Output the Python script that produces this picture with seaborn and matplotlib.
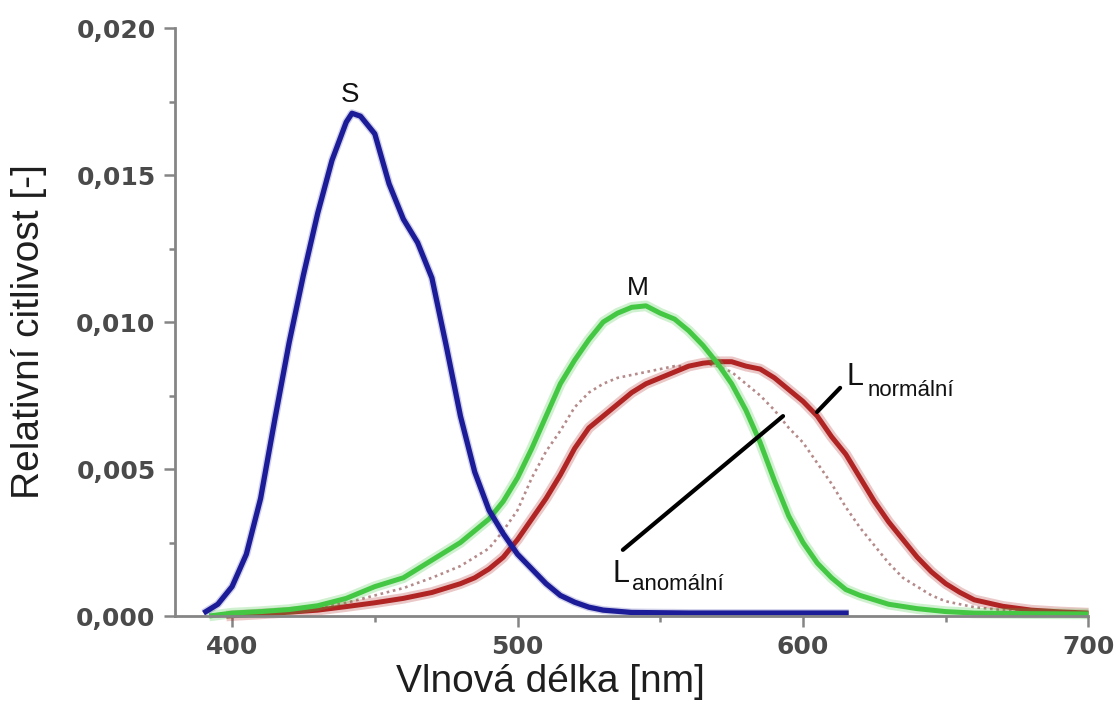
import matplotlib
matplotlib.use("Agg")
import matplotlib.pyplot as plt
import numpy as np
import pandas as pd
import seaborn as sns
from matplotlib.ticker import FixedLocator, FuncFormatter

# ---- data ----
s_wl = [390, 395, 400, 405, 410, 415, 420, 425, 430, 435, 440, 442, 445, 450, 455, 460,
        465, 470, 475, 480, 485, 490, 495, 500, 505, 510, 515, 520, 525, 530, 540, 560,
        580, 600, 616]
s_val = [0.0001, 0.0004, 0.0010, 0.0021, 0.0040, 0.0067, 0.0093, 0.0116, 0.0137, 0.0155,
         0.0168, 0.0171, 0.0170, 0.0164, 0.0147, 0.0135, 0.0127, 0.0115, 0.0092, 0.0068,
         0.0049, 0.0036, 0.0028, 0.0021, 0.0016, 0.0011, 0.0007, 0.00047, 0.0003, 0.0002,
         0.00012, 0.0001, 0.0001, 0.0001, 0.0001]

m_wl = [392, 400, 410, 420, 430, 440, 450, 460, 470, 480, 485, 490, 495, 500, 505, 510, 515,
        520, 525, 530, 535, 540, 545, 550, 555, 560, 565, 570, 575, 580, 585, 590, 595, 600,
        605, 610, 615, 620, 630, 640, 650, 660, 680, 700]
m_val = [0.0, 0.0001, 0.00015, 0.00022, 0.00035, 0.0006, 0.0010, 0.0013, 0.0019, 0.0025,
         0.0029, 0.0033, 0.0039, 0.0047, 0.0057, 0.0068, 0.0079, 0.0087, 0.0094, 0.0100,
         0.0103, 0.0105, 0.01055, 0.0103, 0.0101, 0.0097, 0.0092, 0.0086, 0.0079, 0.0070,
         0.0059, 0.0046, 0.0034, 0.0025, 0.0018, 0.0013, 0.0009, 0.0007, 0.0004, 0.00025,
         0.00015, 0.0001, 0.00008, 0.00007]

ln_wl = [398, 410, 420, 430, 440, 450, 460, 470, 480, 485, 490, 495, 500, 505, 510, 515, 520,
         525, 530, 535, 540, 545, 550, 555, 560, 565, 570, 575, 580, 585, 590, 595, 600, 605,
         610, 615, 620, 625, 630, 635, 640, 645, 650, 655, 660, 670, 680, 690, 700]
ln_val = [0.0, 0.00007, 0.00013, 0.0002, 0.00032, 0.00045, 0.0006, 0.0008, 0.0011, 0.0013,
          0.0016, 0.0020, 0.0026, 0.0033, 0.0040, 0.0048, 0.0057, 0.0064, 0.0068, 0.0072,
          0.0076, 0.0079, 0.0081, 0.0083, 0.0085, 0.0086, 0.00865, 0.00865, 0.0085, 0.0084,
          0.0081, 0.0077, 0.0073, 0.0068, 0.0061, 0.0055, 0.0047, 0.0039, 0.0032, 0.0026,
          0.0020, 0.0015, 0.0011, 0.0008, 0.00055, 0.00033, 0.0002, 0.00014, 0.0001]

la_wl = [395, 410, 420, 430, 440, 450, 460, 470, 480, 485, 490, 495, 500, 505, 510, 515, 520,
         525, 530, 535, 540, 545, 550, 555, 560, 565, 570, 575, 580, 585, 590, 595, 600, 605,
         610, 615, 620, 625, 630, 635, 640, 645, 650, 660, 670, 680, 690, 700]
la_val = [0.0, 0.0001, 0.00017, 0.0003, 0.00045, 0.0007, 0.00095, 0.0013, 0.0017, 0.0020,
          0.0023, 0.0029, 0.0036, 0.0047, 0.0056, 0.0063, 0.0071, 0.0076, 0.0079, 0.0081,
          0.0082, 0.0083, 0.0084, 0.0085, 0.0085, 0.0086, 0.0085, 0.0083, 0.0079, 0.0075,
          0.0070, 0.0064, 0.0059, 0.0052, 0.0045, 0.0037, 0.0030, 0.0024, 0.0018, 0.0013,
          0.0010, 0.0007, 0.0005, 0.0003, 0.0002, 0.00014, 0.0001, 0.00007]

x_ticks = [400, 500, 600, 700]
y_ticks = [0.000, 0.005, 0.010, 0.015, 0.020]

x_label = "Vlnová délka [nm]"
y_label = "Relativní citlivost [-]"

# ---- style ----
sns.set_style("ticks")
plt.rcParams["font.family"] = ["Liberation Sans", "DejaVu Sans"]

fig = plt.figure(figsize=(11.18, 7.22), dpi=100)
ax = fig.add_axes([0.1565, 0.1468, 0.8171, 0.8144])


def draw(wl, val, color, lw, glow=0.0, ls="-", glow_alpha=0.25):
    df = pd.DataFrame({"wl": wl, "val": val})
    if glow > 0:
        sns.lineplot(data=df, x="wl", y="val", ax=ax, color=color, lw=lw + glow,
                     alpha=glow_alpha, ls=ls, sort=True)
    sns.lineplot(data=df, x="wl", y="val", ax=ax, color=color, lw=lw, ls=ls, sort=True)


draw(la_wl, la_val, "#b58a8a", 1.9, ls=(0, (1, 1.4)))
draw(ln_wl, ln_val, "#b02424", 3.6, glow=4.0)
draw(m_wl, m_val, "#44c844", 3.6, glow=4.0)
draw(s_wl, s_val, "#1c1c98", 3.8, glow=2.0, glow_alpha=0.2)

for ln in ax.lines:
    ln.set_clip_on(False)
    ln.set_solid_joinstyle("round")
    ln.set_solid_capstyle("butt")

ax.set_xlim(380, 700)
ax.set_ylim(0, 0.020)
ax.xaxis.set_major_locator(FixedLocator(x_ticks))
ax.xaxis.set_minor_locator(FixedLocator([450, 550, 650]))
ax.yaxis.set_major_locator(FixedLocator(y_ticks))
ax.yaxis.set_minor_locator(FixedLocator([0.0025, 0.0075, 0.0125, 0.0175]))
ax.yaxis.set_major_formatter(FuncFormatter(lambda v, p: f"{v:.3f}".replace(".", ",")))
ax.xaxis.set_major_formatter(FuncFormatter(lambda v, p: f"{v:.0f}"))

spine_col = "#858585"
for side in ["top", "right"]:
    ax.spines[side].set_visible(False)
for side in ["left", "bottom"]:
    ax.spines[side].set_color(spine_col)
    ax.spines[side].set_linewidth(2.0)

ax.tick_params(axis="both", which="major", direction="out", length=8, width=1.8,
               color=spine_col, labelsize=18, labelcolor="#4a4a4a", pad=6)
ax.tick_params(axis="both", which="minor", direction="out", length=4, width=1.8,
               color=spine_col)
for lab in ax.get_xticklabels() + ax.get_yticklabels():
    lab.set_fontweight("bold")
    lab.set_family("DejaVu Sans")

ax.set_xlabel(x_label, fontsize=28, color="#1e1e1e")
ax.set_ylabel(y_label, fontsize=28, color="#1e1e1e")
ax.xaxis.set_label_coords(0.4105, -0.082)
ax.yaxis.set_label_coords(-0.140, 0.483)

# ---- annotations ----
ax.text(441.3, 0.0175, "S", fontsize=20, ha="center", va="baseline", color="#111111")
ax.text(542.2, 0.01092, "M", fontsize=19, ha="center", va="baseline", color="#111111")
ax.text(615.4, 0.00786, "L", fontsize=22, ha="left", va="baseline", color="#111111")
ax.text(622.7, 0.00748, "normální", fontsize=16, ha="left", va="baseline", color="#111111")
ax.text(533.1, 0.00116, "L", fontsize=22, ha="left", va="baseline", color="#111111")
ax.text(540.1, 0.00088, "anomální", fontsize=16, ha="left", va="baseline", color="#111111")

ax.annotate("", xy=(593.0, 0.0068), xytext=(536.9, 0.00225),
            arrowprops=dict(arrowstyle="-", lw=3.0, color="black", shrinkA=0, shrinkB=0))
ax.annotate("", xy=(613.0, 0.00776), xytext=(604.9, 0.00694),
            arrowprops=dict(arrowstyle="-", lw=3.0, color="black", shrinkA=0, shrinkB=0))

fig.savefig("out.png", dpi=100, facecolor="white")
